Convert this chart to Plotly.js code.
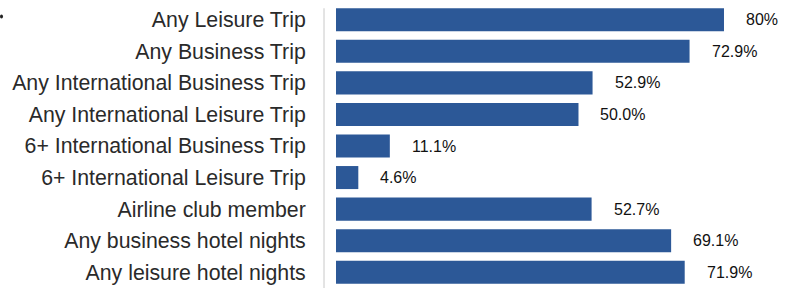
<!DOCTYPE html>
<html>
<head>
<meta charset="utf-8">
<script src="https://cdn.plot.ly/plotly-3.0.1.min.js"></script>
<style>html,body{margin:0;padding:0;background:#fff;}#chart{width:798px;height:290px;}</style>
</head>
<body>
<div id="chart"></div>
<script>
const categories = [
  "Any Leisure Trip",
  "Any Business Trip",
  "Any International Business Trip",
  "Any International Leisure Trip",
  "6+ International Business Trip",
  "6+ International Leisure Trip",
  "Airline club member",
  "Any business hotel nights",
  "Any leisure hotel nights"
];
const values = [80, 72.9, 52.9, 50.0, 11.1, 4.6, 52.7, 69.1, 71.9];
const valueLabels = ["80%", "72.9%", "52.9%", "50.0%", "11.1%", "4.6%", "52.7%", "69.1%", "71.9%"];

const barColor = "#2c5897";
const fontFam = "'Liberation Sans', Arial, Helvetica, sans-serif";

const trace = {
  type: "bar",
  orientation: "h",
  y: categories,
  x: values,
  marker: { color: barColor },
  hoverinfo: "none"
};

const annotations = categories.map((c, i) => ({
  x: values[i], y: c, xref: "x", yref: "y",
  text: valueLabels[i], showarrow: false,
  xanchor: "left", xshift: 20,
  font: { family: fontFam, size: 16, color: "#111" }
}));

const layout = {
  width: 798, height: 290,
  margin: { l: 324, r: 0, t: 4, b: 2, pad: 0 },
  paper_bgcolor: "#fff", plot_bgcolor: "#fff",
  showlegend: false,
  bargap: 0.27,
  xaxis: {
    range: [-2.474, 95.26],
    showgrid: false, zeroline: false, showline: false,
    showticklabels: false, ticks: "", fixedrange: true
  },
  yaxis: {
    autorange: "reversed",
    showgrid: false, zeroline: false, showline: false,
    ticks: "outside", ticklen: 13, tickcolor: "rgba(0,0,0,0)",
    tickfont: { family: fontFam, size: 21.3, color: "#2a2a2a" },
    fixedrange: true
  },
  shapes: [
    { type: "line", xref: "paper", yref: "paper", x0: 0, x1: 0, y0: 0, y1: 0.985,
      line: { color: "#c8c8c8", width: 1 } },
    { type: "circle", xref: "paper", yref: "paper",
      x0: -0.6835, x1: -0.6772, y0: 0.9489, y1: 0.9630,
      fillcolor: "#222", line: { width: 0 } }
  ],
  annotations: annotations
};

Plotly.newPlot("chart", [trace], layout, { displayModeBar: false, staticPlot: true });
</script>
</body>
</html>
